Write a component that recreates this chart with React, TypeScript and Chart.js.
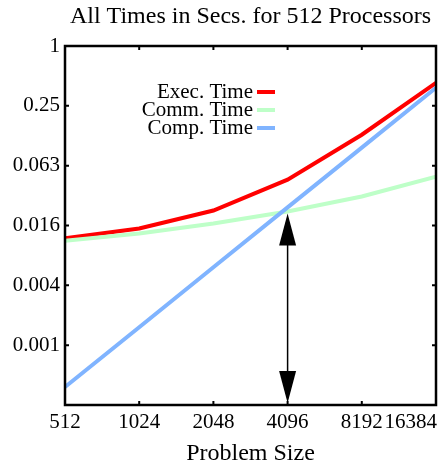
import React, { useEffect, useRef } from "react";
import { Chart, registerables } from "chart.js";

Chart.register(...registerables);

const problemSizes = [512, 1024, 2048, 4096, 8192, 16384];
const execTime = [0.0116, 0.0146, 0.0221, 0.0452, 0.128, 0.425];
const commTime = [0.011, 0.013, 0.0164, 0.0216, 0.0306, 0.0485];
const compTime = [0.00037, 0.00148, 0.00594, 0.0238, 0.095, 0.38];
const yTickValues = [1 / 1024, 1 / 256, 1 / 64, 1 / 16, 1 / 4, 1];
const yTickLabels = ["0.001", "0.004", "0.016", "0.063", "0.25", "1"];
const xTickLabels = ["512", "1024", "2048", "4096", "8192", "16384"];
const yMin = 1 / 4096;
const yMax = 1;
const arrowX = 4096;
const arrowTopY = 0.0216;

const titleText = "All Times in Secs. for 512 Processors";
const xAxisTitle = "Problem Size";
const seriesNames = ["Exec. Time", "Comm. Time", "Comp. Time"];
const seriesColors = ["#ff0000", "rgb(190,255,200)", "rgb(128,180,255)"];

const FAMILY = '"Liberation Serif", "Times New Roman", serif';
const FONT = `21px ${FAMILY}`;
const BIG_FONT = `24px ${FAMILY}`;

const gnuplotPlugin = {
  id: "gnuplotDecor",
  afterDatasetsDraw(chart: any) {
    const { ctx, chartArea, scales } = chart;
    const xs = scales.x;
    const ys = scales.y;
    const { left, right, top, bottom } = chartArea;
    ctx.save();
    // arrow
    const ax = xs.getPixelForValue(arrowX);
    const ayTop = ys.getPixelForValue(arrowTopY) + 2;
    const ayBot = bottom;
    ctx.strokeStyle = "#000";
    ctx.fillStyle = "#000";
    ctx.lineWidth = 1.5;
    ctx.beginPath();
    ctx.moveTo(ax, ayTop + 20);
    ctx.lineTo(ax, ayBot - 20);
    ctx.stroke();
    const hw = 8.5;
    const hl = 32;
    ctx.beginPath();
    ctx.moveTo(ax, ayTop);
    ctx.lineTo(ax - hw, ayTop + hl);
    ctx.lineTo(ax + hw, ayTop + hl);
    ctx.closePath();
    ctx.fill();
    ctx.beginPath();
    ctx.moveTo(ax, ayBot - 2);
    ctx.lineTo(ax - hw, ayBot - 2 - hl);
    ctx.lineTo(ax + hw, ayBot - 2 - hl);
    ctx.closePath();
    ctx.fill();

    // border
    ctx.lineWidth = 2.5;
    ctx.strokeStyle = "#000";
    ctx.strokeRect(left, top, right - left, bottom - top);
    // ticks
    ctx.lineWidth = 2;
    const tl = 4;
    problemSizes.forEach((v) => {
      const px = xs.getPixelForValue(v);
      ctx.beginPath();
      ctx.moveTo(px, bottom);
      ctx.lineTo(px, bottom - tl);
      ctx.moveTo(px, top);
      ctx.lineTo(px, top + tl);
      ctx.stroke();
    });
    yTickValues.forEach((v) => {
      const py = ys.getPixelForValue(v);
      ctx.beginPath();
      ctx.moveTo(left, py);
      ctx.lineTo(left + tl, py);
      ctx.moveTo(right, py);
      ctx.lineTo(right - tl, py);
      ctx.stroke();
    });

    // text
    ctx.font = FONT;
    ctx.fillStyle = "#000";
    ctx.textBaseline = "middle";
    // x tick labels
    const cw = chart.width;
    problemSizes.forEach((v, i) => {
      const px = xs.getPixelForValue(v);
      const label = xTickLabels[i];
      const w = ctx.measureText(label).width;
      let x0 = px - w / 2;
      if (x0 + w > cw - 5) x0 = cw - 5 - w;
      ctx.textAlign = "left";
      ctx.fillText(label, x0, bottom + 17);
    });
    // legend
    const legX = 253;
    const legYs = [92, 110, 128];
    seriesNames.forEach((name, i) => {
      ctx.textAlign = "right";
      ctx.fillStyle = "#000";
      ctx.font = FONT;
      ctx.fillText(name, legX, legYs[i]);
      ctx.strokeStyle = seriesColors[i];
      ctx.lineWidth = 4;
      ctx.beginPath();
      ctx.moveTo(257, legYs[i]);
      ctx.lineTo(275, legYs[i]);
      ctx.stroke();
    });
    // titles
    ctx.font = BIG_FONT;
    ctx.fillStyle = "#000";
    ctx.textAlign = "center";
    ctx.fillText(titleText, (left + right) / 2, 17);
    ctx.fillText(xAxisTitle, (left + right) / 2, bottom + 49);
    ctx.restore();
  },
};

export default function App() {
  const ref = useRef<HTMLCanvasElement | null>(null);
  useEffect(() => {
    document.body.style.margin = "0";
    const canvas = ref.current;
    if (!canvas) return;
    const seriesData = [execTime, commTime, compTime];
    const chart = new Chart(canvas, {
      type: "line",
      data: {
        datasets: seriesData.map((arr, i) => ({
          label: seriesNames[i],
          data: arr.map((y, j) => ({ x: problemSizes[j], y })),
          borderColor: seriesColors[i],
          backgroundColor: seriesColors[i],
          borderWidth: 4,
          pointRadius: 0,
          tension: 0,
          fill: false,
          order: 3 - i,
          borderCapStyle: "butt" as const,
        })),
      },
      options: {
        responsive: false,
        animation: false,
        events: [],
        layout: { padding: { top: 46, right: 6, left: 0, bottom: 0 } },
        plugins: {
          legend: { display: false },
          title: { display: false },
          tooltip: { enabled: false },
        },
        scales: {
          x: {
            type: "logarithmic",
            min: 512,
            max: 16384,
            grid: { display: false, drawTicks: false },
            border: { display: false },
            ticks: { display: false },
            afterFit: (s: any) => {
              s.height = 61;
            },
          },
          y: {
            type: "logarithmic",
            min: yMin,
            max: yMax,
            grid: { display: false, drawTicks: false },
            border: { display: false },
            afterBuildTicks: (s: any) => {
              s.ticks = yTickValues.map((v) => ({ value: v }));
            },
            ticks: {
              padding: 5,
              color: "#000",
              font: { family: FAMILY, size: 21 },
              callback: (v: any) => {
                const idx = yTickValues.findIndex((t) => Math.abs(t - v) / t < 1e-6);
                return idx >= 0 ? yTickLabels[idx] : "";
              },
            },
            afterFit: (s: any) => {
              s.width = 65;
            },
          },
        },
      },
      plugins: [gnuplotPlugin],
    });
    return () => chart.destroy();
  }, []);
  return (
    <div style={{ width: 442, height: 466, background: "#fff" }}>
      <canvas ref={ref} width={442} height={466} />
    </div>
  );
}
